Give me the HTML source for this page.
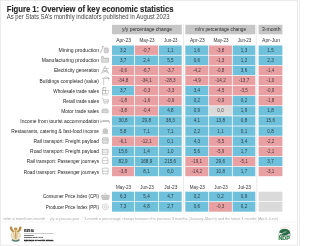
<!DOCTYPE html>
<html><head><meta charset="utf-8"><style>
html,body{margin:0;padding:0;background:#fff;}
body{width:300px;height:246px;position:relative;overflow:hidden;font-family:"Liberation Sans",sans-serif;}
svg{position:absolute;left:0;top:0;will-change:transform;filter:blur(0.3px);}
text{font-family:"Liberation Sans",sans-serif;}
.v{font-size:5.3px;fill:#141418;fill-opacity:0.78;text-anchor:middle;}
.l{font-size:5.2px;fill:#1e1e1e;text-anchor:end;}
.sh{font-size:5.3px;fill:#333;text-anchor:middle;}
.ft{font-size:3.9px;fill:#acacac;}
.hd{font-size:5.6px;fill:#2a2a2a;text-anchor:middle;}
</style></head><body>
<svg width="300" height="246" viewBox="0 0 300 246">
<rect x="0" y="0" width="300" height="246" fill="#fff"/>
<rect x="0.6" y="0.4" width="296.8" height="244.8" fill="none" stroke="#e8e8e8" stroke-width="0.9"/>
<rect x="299.2" y="0" width="0.8" height="246" fill="#ececec"/>
<text x="6.7" y="11.8" font-size="8.3" font-weight="bold" fill="#262626" stroke="#262626" stroke-width="0.12" textLength="166.8" lengthAdjust="spacingAndGlyphs">Figure 1: Overview of key economic statistics</text>
<text x="6.7" y="19.3" font-size="6.3" fill="#444" textLength="162.8" lengthAdjust="spacingAndGlyphs">As per Stats SA’s monthly indicators published in August 2023</text>
<rect x="112" y="24.8" width="69.8" height="9.5" fill="#c6c6c6"/>
<rect x="185.3" y="24.8" width="70.0" height="9.5" fill="#c6c6c6"/>
<rect x="258.6" y="24.8" width="23.8" height="9.5" fill="#c6c6c6"/>
<text class="hd" x="147" y="31.4" textLength="50" lengthAdjust="spacingAndGlyphs">y/y percentage change</text>
<text class="hd" x="220.5" y="31.4" textLength="51.2" lengthAdjust="spacingAndGlyphs">m/m percentage change</text>
<text class="hd" x="271.3" y="31.4" textLength="18.6" lengthAdjust="spacingAndGlyphs">3-month</text>
<rect x="183.1" y="24.8" width="0.8" height="186.5" fill="#e6e6e6"/>
<rect x="256.4" y="24.8" width="0.8" height="186.5" fill="#e6e6e6"/>
<text class="l" x="99.0" y="52.20" textLength="40.5" lengthAdjust="spacingAndGlyphs">Mining production</text>
<g transform="translate(100,45.50)" fill="none" stroke="#a9a9a9"><path d="M0.3,7.8 Q1.8,4.6 3.2,0.7" stroke-width="0.75"/><path d="M1.6,1.4 Q3,0 4.4,1.2" stroke-width="0.55"/><rect x="4.2" y="2.5" width="4.1" height="4.8" rx="1.1" fill="#d6d2d8" stroke-width="0.6"/></g>
<rect x="112.0" y="45.50" width="22.10" height="9.4" fill="#6fc0da"/>
<text class="v" x="123.05" y="51.70" textLength="6.34" lengthAdjust="spacingAndGlyphs">3,2</text>
<rect x="134.9" y="45.50" width="23.20" height="9.4" fill="#e8a0a3"/>
<text class="v" x="146.50" y="51.70" textLength="7.85" lengthAdjust="spacingAndGlyphs">-0,7</text>
<rect x="158.9" y="45.50" width="22.80" height="9.4" fill="#6fc0da"/>
<text class="v" x="170.30" y="51.70" textLength="6.34" lengthAdjust="spacingAndGlyphs">1,1</text>
<rect x="185.3" y="45.50" width="23.00" height="9.4" fill="#6fc0da"/>
<text class="v" x="196.80" y="51.70" textLength="6.34" lengthAdjust="spacingAndGlyphs">1,6</text>
<rect x="209.1" y="45.50" width="22.80" height="9.4" fill="#e8a0a3"/>
<text class="v" x="220.50" y="51.70" textLength="7.85" lengthAdjust="spacingAndGlyphs">-3,8</text>
<rect x="232.7" y="45.50" width="22.60" height="9.4" fill="#6fc0da"/>
<text class="v" x="244.00" y="51.70" textLength="6.34" lengthAdjust="spacingAndGlyphs">1,3</text>
<rect x="258.6" y="45.50" width="23.80" height="9.4" fill="#6fc0da"/>
<text class="v" x="270.50" y="51.70" textLength="6.34" lengthAdjust="spacingAndGlyphs">1,5</text>
<text class="l" x="99.0" y="62.31" textLength="57.3" lengthAdjust="spacingAndGlyphs">Manufacturing production</text>
<g transform="translate(100,55.61)" fill="none" stroke="#a9a9a9"><path d="M1.6,6.6 V0.9 H3.4 V3.2 L5.2,2.2 V3.2 L7,2.2 V3.2 L8.6,2.4 V6.6 Z" fill="#e2e2e2" stroke-width="0.6"/><path d="M3.6,4.6 H4.4 M5.4,4.6 H6.2 M7.1,4.6 H7.9" stroke-width="0.5"/></g>
<rect x="112.0" y="55.61" width="22.10" height="9.4" fill="#6fc0da"/>
<text class="v" x="123.05" y="61.81" textLength="6.34" lengthAdjust="spacingAndGlyphs">3,7</text>
<rect x="134.9" y="55.61" width="23.20" height="9.4" fill="#6fc0da"/>
<text class="v" x="146.50" y="61.81" textLength="6.34" lengthAdjust="spacingAndGlyphs">2,4</text>
<rect x="158.9" y="55.61" width="22.80" height="9.4" fill="#6fc0da"/>
<text class="v" x="170.30" y="61.81" textLength="6.34" lengthAdjust="spacingAndGlyphs">5,5</text>
<rect x="185.3" y="55.61" width="23.00" height="9.4" fill="#6fc0da"/>
<text class="v" x="196.80" y="61.81" textLength="6.34" lengthAdjust="spacingAndGlyphs">0,6</text>
<rect x="209.1" y="55.61" width="22.80" height="9.4" fill="#e8a0a3"/>
<text class="v" x="220.50" y="61.81" textLength="7.85" lengthAdjust="spacingAndGlyphs">-1,3</text>
<rect x="232.7" y="55.61" width="22.60" height="9.4" fill="#6fc0da"/>
<text class="v" x="244.00" y="61.81" textLength="6.34" lengthAdjust="spacingAndGlyphs">1,2</text>
<rect x="258.6" y="55.61" width="23.80" height="9.4" fill="#6fc0da"/>
<text class="v" x="270.50" y="61.81" textLength="6.34" lengthAdjust="spacingAndGlyphs">2,3</text>
<text class="l" x="99.0" y="72.42" textLength="45.1" lengthAdjust="spacingAndGlyphs">Electricity generation</text>
<g transform="translate(100,65.72)" fill="none" stroke="#a9a9a9"><path d="M5.2,0.2 L1.4,8 M5.2,0.2 L8.6,8 M3.4,2.8 H9 M2.6,5 H7.8 M2,7 L6.8,5 M8.2,7 L3.4,5" stroke-width="0.55"/></g>
<rect x="112.0" y="65.72" width="22.10" height="9.4" fill="#e8a0a3"/>
<text class="v" x="123.05" y="71.92" textLength="7.85" lengthAdjust="spacingAndGlyphs">-0,6</text>
<rect x="134.9" y="65.72" width="23.20" height="9.4" fill="#e8a0a3"/>
<text class="v" x="146.50" y="71.92" textLength="7.85" lengthAdjust="spacingAndGlyphs">-6,7</text>
<rect x="158.9" y="65.72" width="22.80" height="9.4" fill="#e8a0a3"/>
<text class="v" x="170.30" y="71.92" textLength="7.85" lengthAdjust="spacingAndGlyphs">-3,7</text>
<rect x="185.3" y="65.72" width="23.00" height="9.4" fill="#e8a0a3"/>
<text class="v" x="196.80" y="71.92" textLength="7.85" lengthAdjust="spacingAndGlyphs">-4,2</text>
<rect x="209.1" y="65.72" width="22.80" height="9.4" fill="#e8a0a3"/>
<text class="v" x="220.50" y="71.92" textLength="7.85" lengthAdjust="spacingAndGlyphs">-0,8</text>
<rect x="232.7" y="65.72" width="22.60" height="9.4" fill="#6fc0da"/>
<text class="v" x="244.00" y="71.92" textLength="6.34" lengthAdjust="spacingAndGlyphs">3,6</text>
<rect x="258.6" y="65.72" width="23.80" height="9.4" fill="#e8a0a3"/>
<text class="v" x="270.50" y="71.92" textLength="7.85" lengthAdjust="spacingAndGlyphs">-1,4</text>
<text class="l" x="99.0" y="82.53" textLength="59.4" lengthAdjust="spacingAndGlyphs">Buildings completed (value)</text>
<g transform="translate(100,75.83)" fill="none" stroke="#a9a9a9"><path d="M1.9,2.5 H9.5 M3.7,2.5 V9.2 M8.6,2.5 V4.7 M3.7,2.5 L5.4,0.9 L9.5,2.5" stroke-width="0.6"/></g>
<rect x="112.0" y="75.83" width="22.10" height="9.4" fill="#e8a0a3"/>
<text class="v" x="123.05" y="82.03" textLength="10.39" lengthAdjust="spacingAndGlyphs">-34,8</text>
<rect x="134.9" y="75.83" width="23.20" height="9.4" fill="#e8a0a3"/>
<text class="v" x="146.50" y="82.03" textLength="10.39" lengthAdjust="spacingAndGlyphs">-34,1</text>
<rect x="158.9" y="75.83" width="22.80" height="9.4" fill="#e8a0a3"/>
<text class="v" x="170.30" y="82.03" textLength="10.39" lengthAdjust="spacingAndGlyphs">-28,3</text>
<rect x="185.3" y="75.83" width="23.00" height="9.4" fill="#e8a0a3"/>
<text class="v" x="196.80" y="82.03" textLength="7.85" lengthAdjust="spacingAndGlyphs">-4,9</text>
<rect x="209.1" y="75.83" width="22.80" height="9.4" fill="#e8a0a3"/>
<text class="v" x="220.50" y="82.03" textLength="10.39" lengthAdjust="spacingAndGlyphs">-14,2</text>
<rect x="232.7" y="75.83" width="22.60" height="9.4" fill="#e8a0a3"/>
<text class="v" x="244.00" y="82.03" textLength="10.39" lengthAdjust="spacingAndGlyphs">-13,7</text>
<rect x="258.6" y="75.83" width="23.80" height="9.4" fill="#e8a0a3"/>
<text class="v" x="270.50" y="82.03" textLength="7.85" lengthAdjust="spacingAndGlyphs">-1,0</text>
<text class="l" x="99.0" y="92.64" textLength="45.7" lengthAdjust="spacingAndGlyphs">Wholesale trade sales</text>
<g transform="translate(100,85.94)" fill="none" stroke="#a9a9a9"><rect x="3.2" y="1.7" width="2.6" height="2.6" stroke-width="0.5"/><rect x="2.6" y="4.6" width="2.7" height="2.8" stroke-width="0.5"/><rect x="5.5" y="4.6" width="2.7" height="2.8" stroke-width="0.5"/><path d="M2.4,1.6 V9 H8.4" stroke-width="0.5"/></g>
<rect x="112.0" y="85.94" width="22.10" height="9.4" fill="#6fc0da"/>
<text class="v" x="123.05" y="92.14" textLength="6.34" lengthAdjust="spacingAndGlyphs">3,7</text>
<rect x="134.9" y="85.94" width="23.20" height="9.4" fill="#e8a0a3"/>
<text class="v" x="146.50" y="92.14" textLength="7.85" lengthAdjust="spacingAndGlyphs">-0,3</text>
<rect x="158.9" y="85.94" width="22.80" height="9.4" fill="#e8a0a3"/>
<text class="v" x="170.30" y="92.14" textLength="7.85" lengthAdjust="spacingAndGlyphs">-3,3</text>
<rect x="185.3" y="85.94" width="23.00" height="9.4" fill="#6fc0da"/>
<text class="v" x="196.80" y="92.14" textLength="6.34" lengthAdjust="spacingAndGlyphs">3,4</text>
<rect x="209.1" y="85.94" width="22.80" height="9.4" fill="#e8a0a3"/>
<text class="v" x="220.50" y="92.14" textLength="7.85" lengthAdjust="spacingAndGlyphs">-4,5</text>
<rect x="232.7" y="85.94" width="22.60" height="9.4" fill="#e8a0a3"/>
<text class="v" x="244.00" y="92.14" textLength="7.85" lengthAdjust="spacingAndGlyphs">-3,5</text>
<rect x="258.6" y="85.94" width="23.80" height="9.4" fill="#e8a0a3"/>
<text class="v" x="270.50" y="92.14" textLength="7.85" lengthAdjust="spacingAndGlyphs">-0,9</text>
<text class="l" x="99.0" y="102.75" textLength="36.0" lengthAdjust="spacingAndGlyphs">Retail trade sales</text>
<g transform="translate(100,96.05)" fill="none" stroke="#a9a9a9"><path d="M2,2.6 H3.2 L4,6.9 H8 L8.7,3.8 H3.5 M4.4,5.3 H8.3" stroke-width="0.6" fill="none"/><circle cx="4.5" cy="7.8" r="0.45" fill="#b4b4b4" stroke="none"/><circle cx="7.6" cy="7.8" r="0.45" fill="#b4b4b4" stroke="none"/></g>
<rect x="112.0" y="96.05" width="22.10" height="9.4" fill="#e8a0a3"/>
<text class="v" x="123.05" y="102.25" textLength="7.85" lengthAdjust="spacingAndGlyphs">-1,8</text>
<rect x="134.9" y="96.05" width="23.20" height="9.4" fill="#e8a0a3"/>
<text class="v" x="146.50" y="102.25" textLength="7.85" lengthAdjust="spacingAndGlyphs">-1,6</text>
<rect x="158.9" y="96.05" width="22.80" height="9.4" fill="#e8a0a3"/>
<text class="v" x="170.30" y="102.25" textLength="7.85" lengthAdjust="spacingAndGlyphs">-0,9</text>
<rect x="185.3" y="96.05" width="23.00" height="9.4" fill="#6fc0da"/>
<text class="v" x="196.80" y="102.25" textLength="6.34" lengthAdjust="spacingAndGlyphs">0,2</text>
<rect x="209.1" y="96.05" width="22.80" height="9.4" fill="#e8a0a3"/>
<text class="v" x="220.50" y="102.25" textLength="7.85" lengthAdjust="spacingAndGlyphs">-0,9</text>
<rect x="232.7" y="96.05" width="22.60" height="9.4" fill="#6fc0da"/>
<text class="v" x="244.00" y="102.25" textLength="6.34" lengthAdjust="spacingAndGlyphs">0,2</text>
<rect x="258.6" y="96.05" width="23.80" height="9.4" fill="#e8a0a3"/>
<text class="v" x="270.50" y="102.25" textLength="7.85" lengthAdjust="spacingAndGlyphs">-1,8</text>
<text class="l" x="99.0" y="112.86" textLength="37.8" lengthAdjust="spacingAndGlyphs">Motor trade sales</text>
<g transform="translate(100,106.16)" fill="none" stroke="#a9a9a9"><path d="M1.9,6.6 V4.4 L3.1,2.8 H7 L8.2,4.4 V6.6 Z" fill="#e0e0e0" stroke-width="0.6"/><path d="M1.9,4.6 H8.2" stroke-width="0.45"/></g>
<rect x="112.0" y="106.16" width="22.10" height="9.4" fill="#e8a0a3"/>
<text class="v" x="123.05" y="112.36" textLength="7.85" lengthAdjust="spacingAndGlyphs">-3,8</text>
<rect x="134.9" y="106.16" width="23.20" height="9.4" fill="#e8a0a3"/>
<text class="v" x="146.50" y="112.36" textLength="7.85" lengthAdjust="spacingAndGlyphs">-0,4</text>
<rect x="158.9" y="106.16" width="22.80" height="9.4" fill="#6fc0da"/>
<text class="v" x="170.30" y="112.36" textLength="6.34" lengthAdjust="spacingAndGlyphs">4,8</text>
<rect x="185.3" y="106.16" width="23.00" height="9.4" fill="#6fc0da"/>
<text class="v" x="196.80" y="112.36" textLength="6.34" lengthAdjust="spacingAndGlyphs">0,9</text>
<rect x="209.1" y="106.16" width="22.80" height="9.4" fill="#dadada"/>
<text class="v" x="220.50" y="112.36" textLength="6.34" lengthAdjust="spacingAndGlyphs">0,0</text>
<rect x="232.7" y="106.16" width="22.60" height="9.4" fill="#6fc0da"/>
<text class="v" x="244.00" y="112.36" textLength="6.34" lengthAdjust="spacingAndGlyphs">1,9</text>
<rect x="258.6" y="106.16" width="23.80" height="9.4" fill="#6fc0da"/>
<text class="v" x="270.50" y="112.36" textLength="6.34" lengthAdjust="spacingAndGlyphs">1,8</text>
<text class="l" x="99.0" y="122.97" textLength="78.7" lengthAdjust="spacingAndGlyphs">Income from tourist accommodation</text>
<g transform="translate(100,116.27)" fill="none" stroke="#a9a9a9"><path d="M0.8,6.9 V3.2 M0.8,5.2 H9.4 V6.9 M2.4,4.2 H9.2" stroke-width="0.7"/></g>
<rect x="112.0" y="116.27" width="22.10" height="9.4" fill="#6fc0da"/>
<text class="v" x="123.05" y="122.47" textLength="8.87" lengthAdjust="spacingAndGlyphs">30,8</text>
<rect x="134.9" y="116.27" width="23.20" height="9.4" fill="#6fc0da"/>
<text class="v" x="146.50" y="122.47" textLength="8.87" lengthAdjust="spacingAndGlyphs">29,8</text>
<rect x="158.9" y="116.27" width="22.80" height="9.4" fill="#6fc0da"/>
<text class="v" x="170.30" y="122.47" textLength="8.87" lengthAdjust="spacingAndGlyphs">38,3</text>
<rect x="185.3" y="116.27" width="23.00" height="9.4" fill="#6fc0da"/>
<text class="v" x="196.80" y="122.47" textLength="6.34" lengthAdjust="spacingAndGlyphs">4,1</text>
<rect x="209.1" y="116.27" width="22.80" height="9.4" fill="#6fc0da"/>
<text class="v" x="220.50" y="122.47" textLength="8.87" lengthAdjust="spacingAndGlyphs">13,8</text>
<rect x="232.7" y="116.27" width="22.60" height="9.4" fill="#6fc0da"/>
<text class="v" x="244.00" y="122.47" textLength="6.34" lengthAdjust="spacingAndGlyphs">0,8</text>
<rect x="258.6" y="116.27" width="23.80" height="9.4" fill="#6fc0da"/>
<text class="v" x="270.50" y="122.47" textLength="8.87" lengthAdjust="spacingAndGlyphs">15,6</text>
<text class="l" x="99.0" y="133.08" textLength="87.8" lengthAdjust="spacingAndGlyphs">Restaurants, catering &amp; fast-food income</text>
<g transform="translate(100,126.38)" fill="none" stroke="#a9a9a9"><ellipse cx="5.3" cy="4.5" rx="2.8" ry="2.7" fill="#c6c6c6" stroke="none"/><path d="M2,7.2 H8.6" stroke-width="0.5"/></g>
<rect x="112.0" y="126.38" width="22.10" height="9.4" fill="#6fc0da"/>
<text class="v" x="123.05" y="132.58" textLength="6.34" lengthAdjust="spacingAndGlyphs">5,8</text>
<rect x="134.9" y="126.38" width="23.20" height="9.4" fill="#6fc0da"/>
<text class="v" x="146.50" y="132.58" textLength="6.34" lengthAdjust="spacingAndGlyphs">7,1</text>
<rect x="158.9" y="126.38" width="22.80" height="9.4" fill="#6fc0da"/>
<text class="v" x="170.30" y="132.58" textLength="6.34" lengthAdjust="spacingAndGlyphs">7,1</text>
<rect x="185.3" y="126.38" width="23.00" height="9.4" fill="#6fc0da"/>
<text class="v" x="196.80" y="132.58" textLength="6.34" lengthAdjust="spacingAndGlyphs">2,2</text>
<rect x="209.1" y="126.38" width="22.80" height="9.4" fill="#6fc0da"/>
<text class="v" x="220.50" y="132.58" textLength="6.34" lengthAdjust="spacingAndGlyphs">1,1</text>
<rect x="232.7" y="126.38" width="22.60" height="9.4" fill="#6fc0da"/>
<text class="v" x="244.00" y="132.58" textLength="6.34" lengthAdjust="spacingAndGlyphs">0,1</text>
<rect x="258.6" y="126.38" width="23.80" height="9.4" fill="#6fc0da"/>
<text class="v" x="270.50" y="132.58" textLength="6.34" lengthAdjust="spacingAndGlyphs">0,8</text>
<text class="l" x="99.0" y="143.19" textLength="65.5" lengthAdjust="spacingAndGlyphs">Rail transport: Freight payload</text>
<g transform="translate(100,136.49)" fill="none" stroke="#a9a9a9"><rect x="2.4" y="1.2" width="5.8" height="5.6" rx="0.6" stroke-width="0.6" fill="#e0e0e0"/><path d="M2.4,3.4 H8.2 M3.2,7.6 L3.8,6.8 M7.4,7.6 L6.8,6.8" stroke-width="0.5"/></g>
<rect x="112.0" y="136.49" width="22.10" height="9.4" fill="#e8a0a3"/>
<text class="v" x="123.05" y="142.69" textLength="7.85" lengthAdjust="spacingAndGlyphs">-6,1</text>
<rect x="134.9" y="136.49" width="23.20" height="9.4" fill="#e8a0a3"/>
<text class="v" x="146.50" y="142.69" textLength="10.39" lengthAdjust="spacingAndGlyphs">-12,1</text>
<rect x="158.9" y="136.49" width="22.80" height="9.4" fill="#6fc0da"/>
<text class="v" x="170.30" y="142.69" textLength="6.34" lengthAdjust="spacingAndGlyphs">0,1</text>
<rect x="185.3" y="136.49" width="23.00" height="9.4" fill="#6fc0da"/>
<text class="v" x="196.80" y="142.69" textLength="6.34" lengthAdjust="spacingAndGlyphs">4,3</text>
<rect x="209.1" y="136.49" width="22.80" height="9.4" fill="#e8a0a3"/>
<text class="v" x="220.50" y="142.69" textLength="7.85" lengthAdjust="spacingAndGlyphs">-5,5</text>
<rect x="232.7" y="136.49" width="22.60" height="9.4" fill="#6fc0da"/>
<text class="v" x="244.00" y="142.69" textLength="6.34" lengthAdjust="spacingAndGlyphs">3,4</text>
<rect x="258.6" y="136.49" width="23.80" height="9.4" fill="#e8a0a3"/>
<text class="v" x="270.50" y="142.69" textLength="7.85" lengthAdjust="spacingAndGlyphs">-2,2</text>
<text class="l" x="99.0" y="153.30" textLength="68.9" lengthAdjust="spacingAndGlyphs">Road transport: Freight payload</text>
<g transform="translate(100,146.60)" fill="none" stroke="#a9a9a9"><rect x="2.2" y="2.6" width="5.8" height="5.2" stroke-width="0.6"/><path d="M2.2,4.4 H8 M2.2,6.1 H8" stroke-width="0.5"/></g>
<rect x="112.0" y="146.60" width="22.10" height="9.4" fill="#6fc0da"/>
<text class="v" x="123.05" y="152.80" textLength="8.87" lengthAdjust="spacingAndGlyphs">15,6</text>
<rect x="134.9" y="146.60" width="23.20" height="9.4" fill="#6fc0da"/>
<text class="v" x="146.50" y="152.80" textLength="6.34" lengthAdjust="spacingAndGlyphs">1,4</text>
<rect x="158.9" y="146.60" width="22.80" height="9.4" fill="#6fc0da"/>
<text class="v" x="170.30" y="152.80" textLength="6.34" lengthAdjust="spacingAndGlyphs">1,0</text>
<rect x="185.3" y="146.60" width="23.00" height="9.4" fill="#6fc0da"/>
<text class="v" x="196.80" y="152.80" textLength="6.34" lengthAdjust="spacingAndGlyphs">5,6</text>
<rect x="209.1" y="146.60" width="22.80" height="9.4" fill="#e8a0a3"/>
<text class="v" x="220.50" y="152.80" textLength="7.85" lengthAdjust="spacingAndGlyphs">-5,9</text>
<rect x="232.7" y="146.60" width="22.60" height="9.4" fill="#6fc0da"/>
<text class="v" x="244.00" y="152.80" textLength="6.34" lengthAdjust="spacingAndGlyphs">1,7</text>
<rect x="258.6" y="146.60" width="23.80" height="9.4" fill="#e8a0a3"/>
<text class="v" x="270.50" y="152.80" textLength="7.85" lengthAdjust="spacingAndGlyphs">-2,1</text>
<text class="l" x="99.0" y="163.41" textLength="72.2" lengthAdjust="spacingAndGlyphs">Rail transport: Passenger journeys</text>
<g transform="translate(100,156.71)" fill="none" stroke="#a9a9a9"><path d="M2.4,6.6 V3 Q2.4,0.4 5.2,0.4 Q8,0.4 8,3 V6.6 Z" stroke-width="0.6"/><path d="M2.4,3.8 H8 M3.2,7.2 L3.8,6.6 M7.2,7.2 L6.6,6.6" stroke-width="0.5"/></g>
<rect x="112.0" y="156.71" width="22.10" height="9.4" fill="#6fc0da"/>
<text class="v" x="123.05" y="162.91" textLength="8.87" lengthAdjust="spacingAndGlyphs">82,9</text>
<rect x="134.9" y="156.71" width="23.20" height="9.4" fill="#6fc0da"/>
<text class="v" x="146.50" y="162.91" textLength="11.40" lengthAdjust="spacingAndGlyphs">168,9</text>
<rect x="158.9" y="156.71" width="22.80" height="9.4" fill="#6fc0da"/>
<text class="v" x="170.30" y="162.91" textLength="11.40" lengthAdjust="spacingAndGlyphs">215,6</text>
<rect x="185.3" y="156.71" width="23.00" height="9.4" fill="#e8a0a3"/>
<text class="v" x="196.80" y="162.91" textLength="10.39" lengthAdjust="spacingAndGlyphs">-19,1</text>
<rect x="209.1" y="156.71" width="22.80" height="9.4" fill="#6fc0da"/>
<text class="v" x="220.50" y="162.91" textLength="8.87" lengthAdjust="spacingAndGlyphs">29,6</text>
<rect x="232.7" y="156.71" width="22.60" height="9.4" fill="#e8a0a3"/>
<text class="v" x="244.00" y="162.91" textLength="7.85" lengthAdjust="spacingAndGlyphs">-5,1</text>
<rect x="258.6" y="156.71" width="23.80" height="9.4" fill="#6fc0da"/>
<text class="v" x="270.50" y="162.91" textLength="6.34" lengthAdjust="spacingAndGlyphs">3,7</text>
<text class="l" x="99.0" y="173.52" textLength="75.2" lengthAdjust="spacingAndGlyphs">Road transport: Passenger journeys</text>
<g transform="translate(100,166.82)" fill="none" stroke="#a9a9a9"><rect x="2.4" y="1.3" width="5.8" height="5.8" rx="0.7" stroke-width="0.6"/><path d="M2.4,4.4 H8.2 M3.4,7.8 V7 M7.2,7.8 V7" stroke-width="0.55"/></g>
<rect x="112.0" y="166.82" width="22.10" height="9.4" fill="#e8a0a3"/>
<text class="v" x="123.05" y="173.02" textLength="7.85" lengthAdjust="spacingAndGlyphs">-3,8</text>
<rect x="134.9" y="166.82" width="23.20" height="9.4" fill="#6fc0da"/>
<text class="v" x="146.50" y="173.02" textLength="6.34" lengthAdjust="spacingAndGlyphs">8,1</text>
<rect x="158.9" y="166.82" width="22.80" height="9.4" fill="#6fc0da"/>
<text class="v" x="170.30" y="173.02" textLength="6.34" lengthAdjust="spacingAndGlyphs">6,0</text>
<rect x="185.3" y="166.82" width="23.00" height="9.4" fill="#e8a0a3"/>
<text class="v" x="196.80" y="173.02" textLength="10.39" lengthAdjust="spacingAndGlyphs">-14,2</text>
<rect x="209.1" y="166.82" width="22.80" height="9.4" fill="#6fc0da"/>
<text class="v" x="220.50" y="173.02" textLength="8.87" lengthAdjust="spacingAndGlyphs">10,8</text>
<rect x="232.7" y="166.82" width="22.60" height="9.4" fill="#6fc0da"/>
<text class="v" x="244.00" y="173.02" textLength="6.34" lengthAdjust="spacingAndGlyphs">1,7</text>
<rect x="258.6" y="166.82" width="23.80" height="9.4" fill="#e8a0a3"/>
<text class="v" x="270.50" y="173.02" textLength="7.85" lengthAdjust="spacingAndGlyphs">-3,1</text>
<text class="sh" x="123.55" y="42.3" textLength="14.8" lengthAdjust="spacingAndGlyphs">Apr-23</text>
<text class="sh" x="147.00" y="42.3" textLength="15.2" lengthAdjust="spacingAndGlyphs">May-23</text>
<text class="sh" x="170.80" y="42.3" textLength="13.6" lengthAdjust="spacingAndGlyphs">Jun-23</text>
<text class="sh" x="197.30" y="42.3" textLength="14.8" lengthAdjust="spacingAndGlyphs">Apr-23</text>
<text class="sh" x="221.00" y="42.3" textLength="15.2" lengthAdjust="spacingAndGlyphs">May-23</text>
<text class="sh" x="244.50" y="42.3" textLength="13.6" lengthAdjust="spacingAndGlyphs">Jun-23</text>
<text class="sh" x="271.00" y="42.3" textLength="18.0" lengthAdjust="spacingAndGlyphs">Apr-Jun</text>
<text class="sh" x="123.55" y="189.0" textLength="15.2" lengthAdjust="spacingAndGlyphs">May-23</text>
<text class="sh" x="147.00" y="189.0" textLength="13.6" lengthAdjust="spacingAndGlyphs">Jun-23</text>
<text class="sh" x="170.80" y="189.0" textLength="13.0" lengthAdjust="spacingAndGlyphs">Jul-23</text>
<text class="sh" x="197.30" y="189.0" textLength="15.2" lengthAdjust="spacingAndGlyphs">May-23</text>
<text class="sh" x="221.00" y="189.0" textLength="13.6" lengthAdjust="spacingAndGlyphs">Jun-23</text>
<text class="sh" x="244.50" y="189.0" textLength="13.0" lengthAdjust="spacingAndGlyphs">Jul-23</text>
<text class="l" x="99.0" y="198.40" textLength="55.9" lengthAdjust="spacingAndGlyphs">Consumer Price Index (CPI)</text>
<g transform="translate(100,191.70)" fill="none" stroke="#a9a9a9"><path d="M1.4,3.8 H9.4 L8.4,7.8 H2.4 Z" fill="#d0d0d0" stroke-width="0.55"/><path d="M3.2,3.8 L5.4,1.2 L7.6,3.8 M4,5.2 V7 M5.4,5.2 V7 M6.8,5.2 V7" stroke-width="0.5"/></g>
<rect x="112.0" y="191.70" width="22.10" height="9.6" fill="#6fc0da"/>
<text class="v" x="123.05" y="197.90" textLength="6.34" lengthAdjust="spacingAndGlyphs">6,3</text>
<rect x="134.9" y="191.70" width="23.20" height="9.6" fill="#6fc0da"/>
<text class="v" x="146.50" y="197.90" textLength="6.34" lengthAdjust="spacingAndGlyphs">5,4</text>
<rect x="158.9" y="191.70" width="22.80" height="9.6" fill="#6fc0da"/>
<text class="v" x="170.30" y="197.90" textLength="6.34" lengthAdjust="spacingAndGlyphs">4,7</text>
<rect x="185.3" y="191.70" width="23.00" height="9.6" fill="#6fc0da"/>
<text class="v" x="196.80" y="197.90" textLength="6.34" lengthAdjust="spacingAndGlyphs">0,2</text>
<rect x="209.1" y="191.70" width="22.80" height="9.6" fill="#6fc0da"/>
<text class="v" x="220.50" y="197.90" textLength="6.34" lengthAdjust="spacingAndGlyphs">0,2</text>
<rect x="232.7" y="191.70" width="22.60" height="9.6" fill="#6fc0da"/>
<text class="v" x="244.00" y="197.90" textLength="6.34" lengthAdjust="spacingAndGlyphs">0,9</text>
<rect x="258.6" y="191.70" width="23.80" height="9.6" fill="#dadada"/>
<text class="l" x="99.0" y="208.70" textLength="53.3" lengthAdjust="spacingAndGlyphs">Producer Price Index (PPI)</text>
<g transform="translate(100,202.00)" fill="none" stroke="#a9a9a9"><circle cx="5.4" cy="4.8" r="3" stroke-width="0.7" stroke-dasharray="1.1,0.5"/><circle cx="5.4" cy="4.8" r="1.3" stroke-width="0.5"/></g>
<rect x="112.0" y="202.00" width="22.10" height="9.7" fill="#6fc0da"/>
<text class="v" x="123.05" y="208.20" textLength="6.34" lengthAdjust="spacingAndGlyphs">7,3</text>
<rect x="134.9" y="202.00" width="23.20" height="9.7" fill="#6fc0da"/>
<text class="v" x="146.50" y="208.20" textLength="6.34" lengthAdjust="spacingAndGlyphs">4,8</text>
<rect x="158.9" y="202.00" width="22.80" height="9.7" fill="#6fc0da"/>
<text class="v" x="170.30" y="208.20" textLength="6.34" lengthAdjust="spacingAndGlyphs">2,7</text>
<rect x="185.3" y="202.00" width="23.00" height="9.7" fill="#6fc0da"/>
<text class="v" x="196.80" y="208.20" textLength="6.34" lengthAdjust="spacingAndGlyphs">0,6</text>
<rect x="209.1" y="202.00" width="22.80" height="9.7" fill="#e8a0a3"/>
<text class="v" x="220.50" y="208.20" textLength="7.85" lengthAdjust="spacingAndGlyphs">-0,3</text>
<rect x="232.7" y="202.00" width="22.60" height="9.7" fill="#6fc0da"/>
<text class="v" x="244.00" y="208.20" textLength="6.34" lengthAdjust="spacingAndGlyphs">0,2</text>
<rect x="258.6" y="202.00" width="23.80" height="9.7" fill="#dadada"/>
<text class="ft" x="3.4" y="219.9" textLength="41.6" lengthAdjust="spacingAndGlyphs">m/m = month-on-month</text>
<text class="ft" x="50" y="219.9" textLength="29.5" lengthAdjust="spacingAndGlyphs">y/y = year-on-year</text>
<text class="ft" x="84.2" y="219.9" textLength="193.8" lengthAdjust="spacingAndGlyphs">3-month = percentage change between the previous 3 months (January–March) and the latest 3 months (April–June)</text>
<g>
<ellipse cx="15.7" cy="235.3" rx="4.5" ry="4.5" fill="#f0e6cc" stroke="#dcc28a" stroke-width="0.7"/>
<path d="M11.8,239.6 Q15.7,242.4 19.6,239.6" stroke="#557a6c" stroke-width="1.3" fill="none"/>
<path d="M9.8,227.6 Q9.6,226.5 11,226.5 Q12.3,226.5 12.3,227.8 Q12.5,230.3 14.3,231.1 L13.8,232.5 Q10.1,231.6 9.8,227.6 Z" fill="#b88b47"/>
<path d="M21.6,227.6 Q21.8,226.5 20.4,226.5 Q19.1,226.5 19.1,227.8 Q18.9,230.3 17.1,231.1 L17.6,232.5 Q21.3,231.6 21.6,227.6 Z" fill="#b88b47"/>
<ellipse cx="15.7" cy="229" rx="1.9" ry="1.4" fill="#c39550"/>
<path d="M15.1,230.2 H16.3 L16.6,239 H14.8 Z" fill="#c9a262"/>
<path d="M13,236.2 Q15.7,238.2 18.4,236.2" stroke="#d6b47a" stroke-width="0.6" fill="none"/>
<path d="M13.2,233 L14.6,235.6 M18.2,233 L16.8,235.6" stroke="#cfae72" stroke-width="0.6"/>
</g>
<text x="24" y="232.2" font-size="3.2" font-weight="bold" fill="#111" stroke="#111" stroke-width="0.15" textLength="9.8" lengthAdjust="spacingAndGlyphs">STATS SA</text>
<rect x="24" y="233.2" width="30" height="0.5" fill="#9a9a9a"/>
<text x="24" y="235.8" font-size="1.9" fill="#333" stroke="#333" stroke-width="0.1" textLength="9.6" lengthAdjust="spacingAndGlyphs">Department:</text>
<text x="24" y="237.9" font-size="1.9" fill="#333" stroke="#333" stroke-width="0.1" textLength="19" lengthAdjust="spacingAndGlyphs">Statistics South Africa</text>
<text x="24" y="240.7" font-size="2.5" font-weight="bold" fill="#111" stroke="#111" stroke-width="0.3" textLength="29.4" lengthAdjust="spacingAndGlyphs">REPUBLIC OF SOUTH AFRICA</text>
<g>
<path d="M280,228.4 Q284.4,226.4 289.2,228.4" stroke="#f4d8c4" stroke-width="0.7" fill="none"/>
<path d="M278.6,235.8 Q278.2,229 284.6,228.8 Q290.8,228.8 290.6,235.4 Z" fill="#2b6b45"/>
<path d="M278.4,236 L278.8,232.4 L282.2,233.2 Z" fill="#f4f4f4"/>
<path d="M281,234.6 Q283.6,231.6 286.4,231.8" stroke="#f0f0f0" stroke-width="0.6" fill="none"/>
<path d="M286.4,235.4 Q288.4,233 290.8,233.6 L290.8,235.6 Z" fill="#d9c9dd"/>
</g>
<text x="278.4" y="240.4" font-size="5.4" font-weight="bold" fill="#2f7a46" stroke="#2f7a46" stroke-width="0.2" textLength="11.6" lengthAdjust="spacingAndGlyphs">NDP</text>
<rect x="1" y="221.7" width="296.5" height="0.6" fill="#efefef"/>
</svg>
</body></html>
